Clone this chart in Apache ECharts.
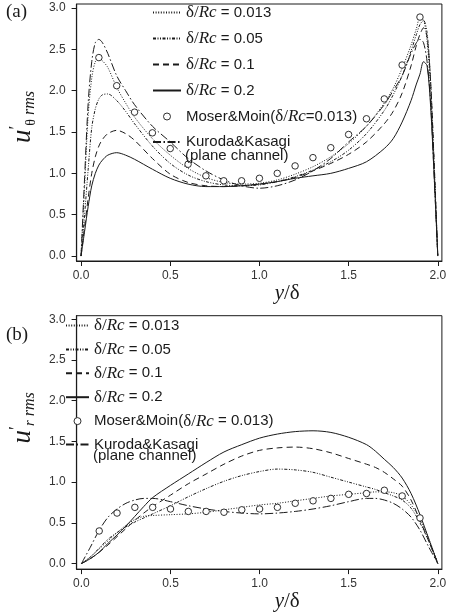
<!DOCTYPE html>
<html><head><meta charset="utf-8">
<script src="https://cdn.jsdelivr.net/npm/echarts@6/dist/echarts.min.js"></script>
<style>html,body{margin:0;padding:0;background:#fff}#c{width:449px;height:613px}</style>
</head><body><div id="c"></div>
<script>
// ---------- panel (a): u'theta rms ----------
const xTop = [0, 0.02, 0.04, 0.06, 0.08, 0.10, 0.12, 0.15, 0.20, 0.25, 0.30, 0.40, 0.50, 0.60, 0.70, 0.80, 0.90, 1.0, 1.1, 1.2, 1.3, 1.4, 1.5, 1.6, 1.7, 1.75, 1.8, 1.85, 1.88, 1.9, 1.92, 1.94, 1.96, 1.98, 2.0];
const topD013 = [0, 0.85, 1.7, 2.15, 2.35, 2.38, 2.36, 2.28, 2.04, 1.85, 1.68, 1.42, 1.22, 1.06, 0.95, 0.89, 0.87, 0.88, 0.92, 0.99, 1.08, 1.2, 1.36, 1.57, 1.85, 2.03, 2.27, 2.55, 2.75, 2.88, 2.86, 2.6, 2.0, 1.05, 0];
const topD05 = [0, 0.5, 1.05, 1.55, 1.78, 1.9, 1.95, 1.96, 1.88, 1.75, 1.6, 1.33, 1.12, 0.98, 0.9, 0.86, 0.85, 0.86, 0.9, 0.96, 1.04, 1.14, 1.28, 1.48, 1.76, 1.95, 2.18, 2.48, 2.68, 2.8, 2.85, 2.7, 2.1, 1.1, 0];
const topD10 = [0, 0.35, 0.7, 1.0, 1.2, 1.33, 1.41, 1.48, 1.52, 1.48, 1.4, 1.18, 0.99, 0.89, 0.85, 0.84, 0.85, 0.87, 0.9, 0.95, 1.03, 1.12, 1.23, 1.38, 1.6, 1.75, 1.97, 2.3, 2.55, 2.68, 2.76, 2.65, 2.1, 1.1, 0];
const topD20 = [0, 0.3, 0.6, 0.85, 1.0, 1.1, 1.16, 1.22, 1.25, 1.22, 1.17, 1.05, 0.94, 0.87, 0.84, 0.84, 0.85, 0.87, 0.9, 0.94, 0.97, 1.0, 1.06, 1.14, 1.3, 1.42, 1.62, 1.88, 2.08, 2.2, 2.35, 2.3, 1.8, 0.95, 0];
const topKuroda = [0, 0.95, 1.85, 2.35, 2.58, 2.62, 2.58, 2.45, 2.18, 2.0, 1.83, 1.57, 1.38, 1.18, 1.03, 0.92, 0.85, 0.82, 0.85, 0.92, 1.03, 1.18, 1.38, 1.57, 1.83, 2.0, 2.18, 2.45, 2.58, 2.62, 2.58, 2.35, 1.85, 0.95, 0];
const topMoserX = [0.1, 0.2, 0.3, 0.4, 0.5, 0.6, 0.7, 0.8, 0.9, 1.0, 1.1, 1.2, 1.3, 1.4, 1.5, 1.6, 1.7, 1.8, 1.9];
const topMoserY = [2.40, 2.06, 1.74, 1.49, 1.30, 1.11, 0.97, 0.91, 0.91, 0.94, 1.00, 1.09, 1.19, 1.31, 1.47, 1.66, 1.90, 2.31, 2.89];

// ---------- panel (b): u'r rms ----------
const xBot = [0, 0.05, 0.1, 0.15, 0.2, 0.25, 0.3, 0.35, 0.4, 0.5, 0.6, 0.7, 0.8, 0.9, 1.0, 1.1, 1.2, 1.3, 1.4, 1.5, 1.6, 1.65, 1.7, 1.75, 1.8, 1.85, 1.9, 1.95, 2.0];
const botD013 = [0, 0.08, 0.18, 0.28, 0.38, 0.47, 0.54, 0.58, 0.59, 0.6, 0.61, 0.63, 0.66, 0.69, 0.72, 0.74, 0.77, 0.8, 0.83, 0.85, 0.87, 0.88, 0.88, 0.87, 0.83, 0.72, 0.55, 0.3, 0];
const botD05 = [0, 0.08, 0.19, 0.3, 0.38, 0.45, 0.51, 0.56, 0.61, 0.71, 0.82, 0.92, 1.01, 1.08, 1.13, 1.16, 1.15, 1.12, 1.06, 1.0, 0.94, 0.91, 0.87, 0.83, 0.78, 0.68, 0.5, 0.27, 0];
const botD10 = [0, 0.06, 0.14, 0.23, 0.33, 0.43, 0.53, 0.62, 0.7, 0.84, 0.98, 1.1, 1.22, 1.32, 1.39, 1.42, 1.43, 1.41, 1.36, 1.29, 1.22, 1.18, 1.12, 1.04, 0.95, 0.78, 0.53, 0.27, 0];
const botD20 = [0, 0.06, 0.14, 0.25, 0.35, 0.46, 0.58, 0.7, 0.81, 0.96, 1.1, 1.24, 1.37, 1.46, 1.54, 1.59, 1.62, 1.63, 1.61, 1.55, 1.46, 1.38, 1.28, 1.18, 1.05, 0.86, 0.6, 0.3, 0];
const botKuroda = [0, 0.2, 0.41, 0.57, 0.67, 0.74, 0.78, 0.8, 0.8, 0.76, 0.71, 0.67, 0.64, 0.62, 0.61, 0.62, 0.64, 0.67, 0.71, 0.76, 0.8, 0.8, 0.78, 0.74, 0.67, 0.57, 0.41, 0.2, 0];
const botMoserX = [0.1, 0.2, 0.3, 0.4, 0.5, 0.6, 0.7, 0.8, 0.9, 1.0, 1.1, 1.2, 1.3, 1.4, 1.5, 1.6, 1.7, 1.8, 1.9];
const botMoserY = [0.40, 0.62, 0.69, 0.69, 0.67, 0.64, 0.64, 0.63, 0.66, 0.67, 0.69, 0.74, 0.77, 0.80, 0.85, 0.86, 0.90, 0.83, 0.56];

// ---------- ticks & labels ----------
const xTicks = [0, 0.5, 1.0, 1.5, 2.0];
const yTicks = [0, 0.5, 1.0, 1.5, 2.0, 2.5, 3.0];
const seriesNames = ['d013', 'd05', 'd10', 'd20', 'moser', 'kuroda'];
const legendTop = {
  d013: '{d|δ/}{i|Rc} = 0.013', d05: '{d|δ/}{i|Rc} = 0.05', d10: '{d|δ/}{i|Rc} = 0.1', d20: '{d|δ/}{i|Rc} = 0.2',
  moser: 'Moser&Moin({d|δ/}{i|Rc}=0.013)', kuroda: 'Kuroda&Kasagi'
};
const legendBot = {
  d013: '{d|δ/}{i|Rc} = 0.013', d05: '{d|δ/}{i|Rc} = 0.05', d10: '{d|δ/}{i|Rc} = 0.1', d20: '{d|δ/}{i|Rc} = 0.2',
  moser: 'Moser&Moin({d|δ/}{i|Rc} = 0.013)', kuroda: 'Kuroda&Kasagi'
};
const legendSecondLine = '(plane channel)';

const SANS = 'Liberation Sans, Arial, sans-serif';
const SERIF = 'Liberation Serif, Times New Roman, serif';
const INK = '#1a1a1a';
const styles = {
  d013: { type: [1, 1.6], width: 1 },
  d05: { type: [3, 1.5, 1, 1.5, 1, 1.5], width: 1 },
  d10: { type: [6, 4], width: 1 },
  d20: { type: 'solid', width: 1 },
  kuroda: { type: [8, 2.5, 1.5, 2.5], width: 1 }
};
const pairs = (xs, ys) => xs.map((x, i) => [x, ys[i]]);

function lineSeries(name, xs, ys, idx) {
  return {
    name: name, type: 'line', xAxisIndex: idx, yAxisIndex: idx,
    data: pairs(xs, ys), symbol: 'none', smooth: 0.3, silent: true,
    lineStyle: Object.assign({ color: INK }, styles[name]),
    itemStyle: { color: INK }, z: 3
  };
}
function moserSeries(xs, ys, idx) {
  return {
    name: 'moser', type: 'scatter', xAxisIndex: idx, yAxisIndex: idx,
    data: pairs(xs, ys), symbol: 'circle', symbolSize: 6.5, silent: true,
    itemStyle: { color: '#fff', borderColor: INK, borderWidth: 0.9, opacity: 1 }, z: 4
  };
}
const richLegend = {
  d: { fontFamily: SERIF, fontSize: 17, lineHeight: 16, color: INK },
  i: { fontFamily: SERIF, fontStyle: 'italic', fontSize: 17, lineHeight: 16, color: INK }
};
function makeLegend(map, left, top, gap, lineW) {
  return {
    orient: 'vertical', left: left, top: top, padding: 0, itemGap: gap,
    itemWidth: lineW, itemHeight: 7, selectedMode: false,
    data: seriesNames.map(n => n === 'moser'
      ? { name: n, itemStyle: { opacity: 1, color: '#fff', borderColor: INK, borderWidth: 0.9 } }
      : { name: n, itemStyle: { opacity: 0 } }),
    formatter: n => map[n],
    textStyle: { fontFamily: SANS, fontSize: 15, lineHeight: 16, color: INK, rich: richLegend }
  };
}
function xAxisCfg(idx, min, max, nameGap) {
  return {
    type: 'value', gridIndex: idx, min: min, max: max,
    axisLine: { onZero: false, lineStyle: { color: INK, width: 1.2 } },
    axisTick: { customValues: xTicks, length: 5, lineStyle: { color: INK } },
    axisLabel: { customValues: xTicks, formatter: v => v.toFixed(1), fontFamily: SANS, fontSize: 12, color: '#333', margin: 9 },
    splitLine: { show: false },
    name: '{i|y}{n|/δ}', nameLocation: 'middle', nameGap: nameGap,
    nameTextStyle: {
      padding: [0, 0, 0, 56],
      rich: {
        i: { fontFamily: SERIF, fontStyle: 'italic', fontSize: 21, lineHeight: 22, color: INK },
        n: { fontFamily: SERIF, fontSize: 21, lineHeight: 22, color: INK }
      }
    }
  };
}
function yAxisCfg(idx, min, max, name, shift) {
  return {
    type: 'value', gridIndex: idx, min: min, max: max,
    axisLine: { onZero: false, lineStyle: { color: INK, width: 1.2 } },
    axisTick: { customValues: yTicks, length: 5, lineStyle: { color: INK } },
    axisLabel: { customValues: yTicks, formatter: v => v.toFixed(1), fontFamily: SANS, fontSize: 12, color: '#333', margin: 11 },
    splitLine: { show: false },
    name: name, nameLocation: 'middle', nameGap: 31,
    nameTextStyle: {
      padding: [0, 0, 0, shift],
      rich: {
        u: { fontFamily: SERIF, fontStyle: 'italic', fontSize: 27, lineHeight: 30, color: INK },
        p: { fontFamily: SERIF, fontSize: 18, lineHeight: 18, verticalAlign: 'top', color: INK },
        t: { fontFamily: SERIF, fontSize: 14, lineHeight: 14, verticalAlign: 'bottom', color: INK },
        ti: { fontFamily: SERIF, fontStyle: 'italic', fontSize: 15, lineHeight: 14, verticalAlign: 'bottom', color: INK },
        r: { fontFamily: SERIF, fontStyle: 'italic', fontSize: 16, lineHeight: 14, verticalAlign: 'bottom', color: INK }
      }
    }
  };
}
const noteStyle = { fontFamily: SANS, fontWeight: 'normal', fontSize: 15, lineHeight: 16, color: INK };

const chart = echarts.init(document.getElementById('c'), null, { renderer: 'canvas' });
chart.setOption({
  animation: false,
  backgroundColor: '#fff',
  title: [
    { text: '(a)', left: 6, top: 3, padding: 0, textStyle: { fontFamily: SERIF, fontWeight: 'normal', fontSize: 19, color: INK } },
    { text: '(b)', left: 6, top: 326, padding: 0, textStyle: { fontFamily: SERIF, fontWeight: 'normal', fontSize: 19, color: INK } },
    { text: legendSecondLine, left: 185, top: 148, padding: 0, textStyle: noteStyle },
    { text: legendSecondLine, left: 93, top: 448, padding: 0, textStyle: noteStyle }
  ],
  grid: [
    { left: 64.5, right: 4, top: 4, height: 257, show: true, borderColor: INK, borderWidth: 1, backgroundColor: 'transparent' },
    { left: 63.5, right: 4, top: 315.7, height: 257.6, show: true, borderColor: INK, borderWidth: 1, backgroundColor: 'transparent' }
  ],
  xAxis: [xAxisCfg(0, -0.025, 2.023, 21), xAxisCfg(1, -0.027, 2.023, 17)],
  yAxis: [
    yAxisCfg(0, -0.06, 3.048, '{u|u}{p|′}{t|θ}{r| rms}', 31),
    yAxisCfg(1, -0.068, 3.043, '{u|u}{p|′}{ti|r}{r| rms}', 49)
  ],
  legend: [makeLegend(legendTop, 152, 4, 9, 28), makeLegend(legendBot, 65, 317, 6.9, 23)],
  series: [
    lineSeries('d013', xTop, topD013, 0),
    lineSeries('d05', xTop, topD05, 0),
    lineSeries('d10', xTop, topD10, 0),
    lineSeries('d20', xTop, topD20, 0),
    moserSeries(topMoserX, topMoserY, 0),
    lineSeries('kuroda', xTop, topKuroda, 0),
    lineSeries('d013', xBot, botD013, 1),
    lineSeries('d05', xBot, botD05, 1),
    lineSeries('d10', xBot, botD10, 1),
    lineSeries('d20', xBot, botD20, 1),
    moserSeries(botMoserX, botMoserY, 1),
    lineSeries('kuroda', xBot, botKuroda, 1)
  ]
});
</script></body></html>
